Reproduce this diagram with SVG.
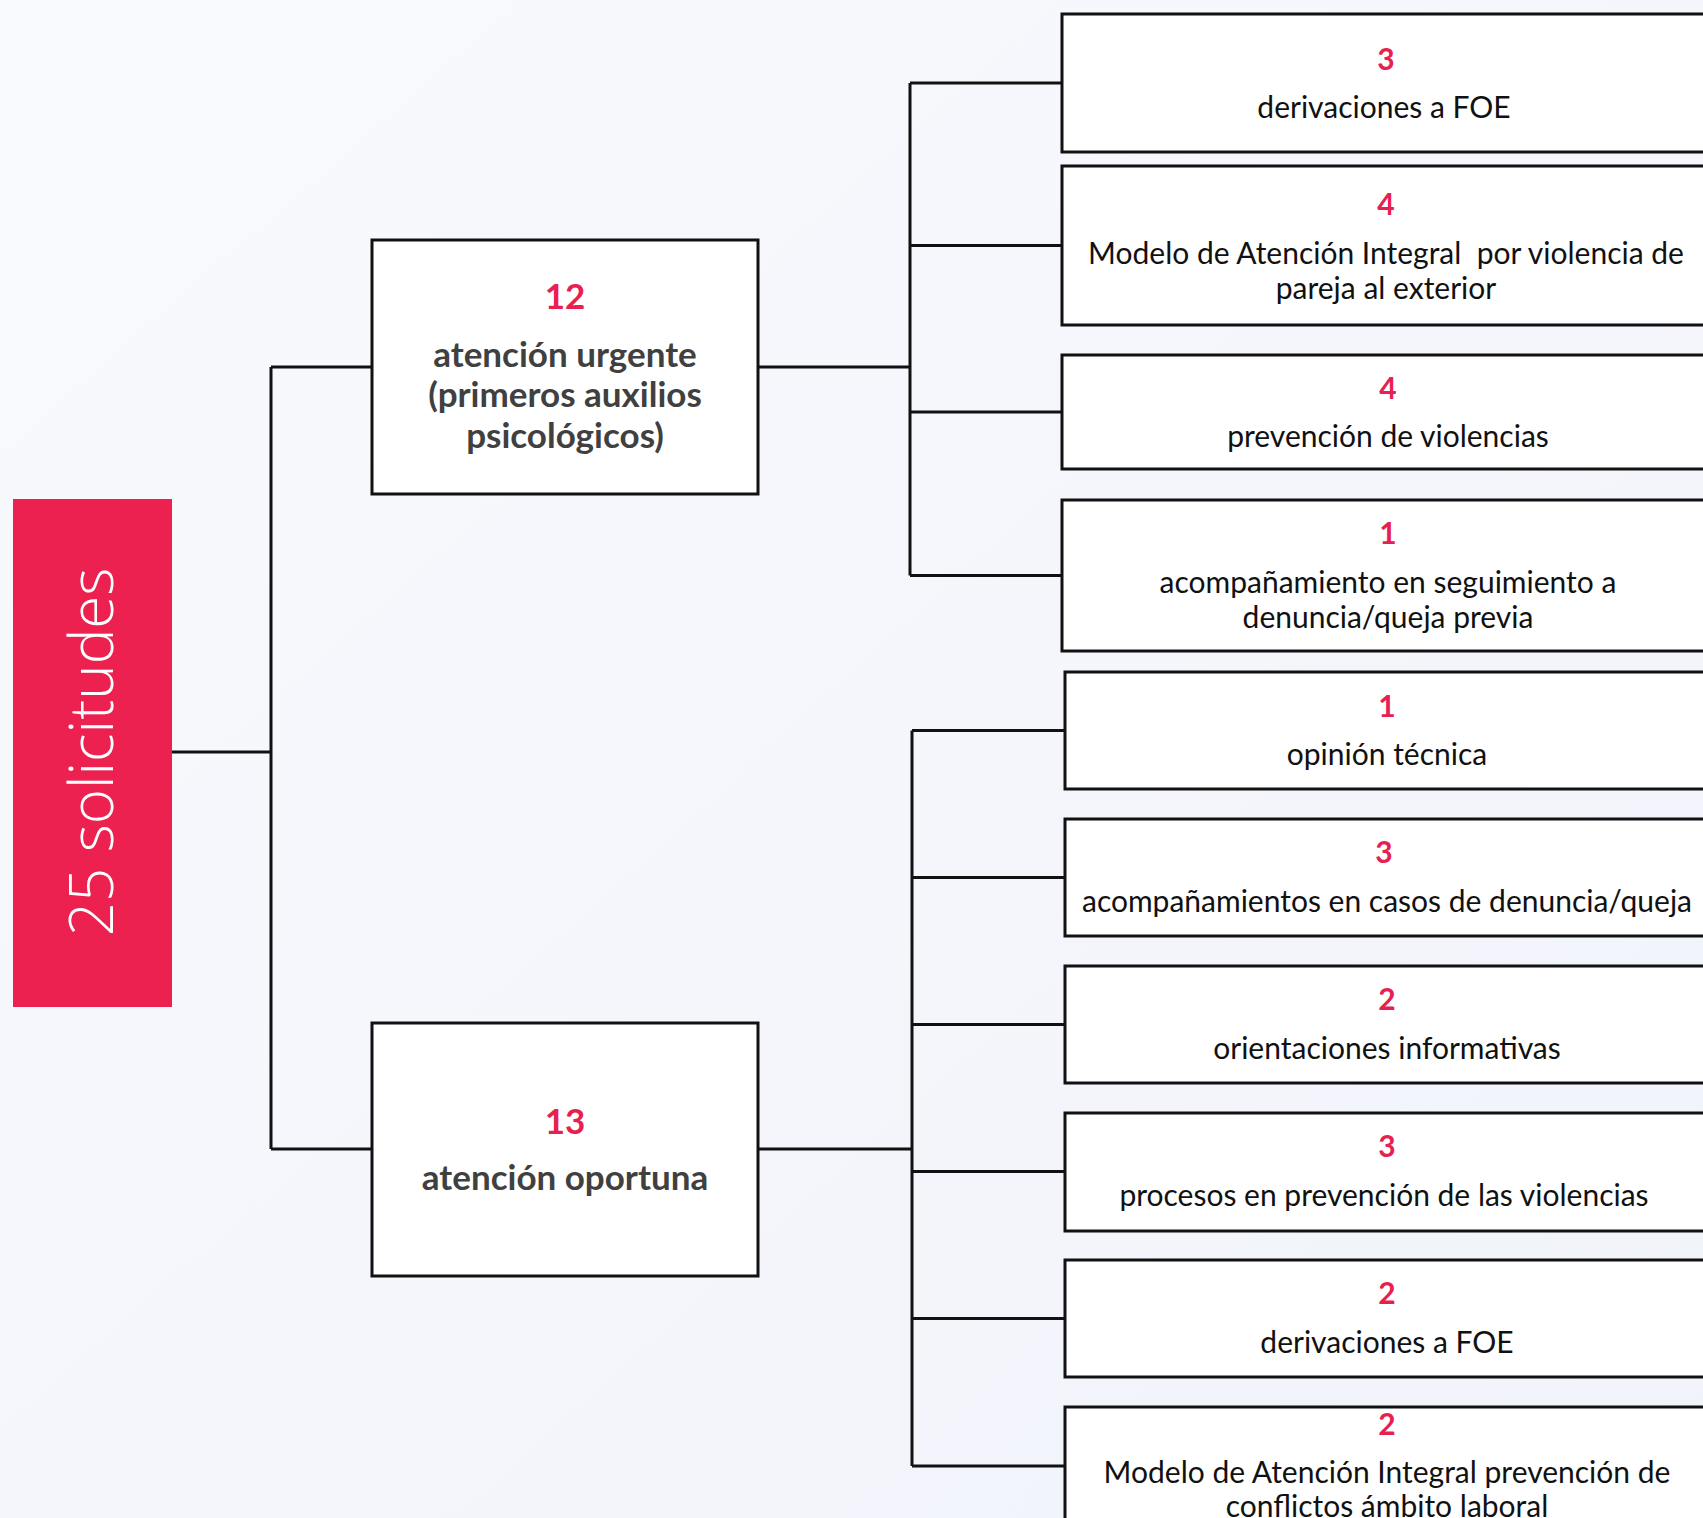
<svg xmlns="http://www.w3.org/2000/svg" width="1703" height="1518" viewBox="0 0 1703 1518">
<defs>
<linearGradient id="bg" x1="0" y1="0" x2="1" y2="1">
<stop offset="0" stop-color="#F9FAFD"/>
<stop offset="1" stop-color="#F1F3FB"/>
</linearGradient>
<style>
.box{fill:#FFFFFF;stroke:#111111;stroke-width:3}
.conn{fill:none;stroke:#111111;stroke-width:3}
.num{font-family:Lato,"Liberation Sans",sans-serif;font-weight:700;fill:#E8204F;text-anchor:middle}
.n1{font-size:30px}
.n2{font-size:35px}
.lbl{font-family:Lato,"Liberation Sans",sans-serif;font-size:30px;fill:#111111;text-anchor:middle}
.mid{font-family:Lato,"Liberation Sans",sans-serif;font-size:35px;font-weight:700;fill:#404040;text-anchor:middle}
.root{font-family:"Open Sans","Liberation Sans",sans-serif;font-size:60px;font-weight:300;fill:#FFFFFF;text-anchor:middle}
</style>
</defs>
<rect x="0" y="0" width="1703" height="1518" fill="url(#bg)"/>
<g id="connectors">
<path class="conn" d="M172,752 H271 M271,367 V1149 M271,367 H372 M271,1149 H372"/>
<path class="conn" d="M758,367 H910 M910,83 V575.5 M910,83 H1062 M910,245.5 H1062 M910,412 H1062 M910,575.5 H1062"/>
<path class="conn" d="M758,1149 H912 M912,730.5 V1466 M912,730.5 H1065 M912,877.5 H1065 M912,1024.5 H1065 M912,1171.5 H1065 M912,1318.5 H1065 M912,1466 H1065"/>
</g>
<g id="root">
<rect x="13" y="499" width="159" height="508" fill="#EC2150"/>
<text class="root" transform="translate(113,752) rotate(-90)" x="0" y="0">25 solicitudes</text>
</g>
<g id="urgente">
<rect class="box" x="372" y="240" width="386" height="254"/>
<text class="num n2" x="565" y="309">12</text>
<text class="mid" x="565" y="367">atención urgente</text>
<text class="mid" x="565" y="407">(primeros auxilios</text>
<text class="mid" x="565" y="448">psicológicos)</text>
</g>
<g id="oportuna">
<rect class="box" x="372" y="1023" width="386" height="253"/>
<text class="num n2" x="565" y="1134">13</text>
<text class="mid" x="565" y="1190">atención oportuna</text>
</g>
<g id="u1">
<rect class="box" x="1062" y="14" width="650" height="138"/>
<text class="num n1" x="1386" y="70">3</text>
<text class="lbl" x="1384" y="118">derivaciones a FOE</text>
</g>
<g id="u2">
<rect class="box" x="1062" y="166" width="650" height="159"/>
<text class="num n1" x="1386" y="215">4</text>
<text class="lbl" x="1386" y="264">Modelo de Atención Integral&#160; por violencia de</text>
<text class="lbl" x="1386" y="299">pareja al exterior</text>
</g>
<g id="u3">
<rect class="box" x="1062" y="355" width="650" height="114"/>
<text class="num n1" x="1388" y="399">4</text>
<text class="lbl" x="1388" y="447">prevención de violencias</text>
</g>
<g id="u4">
<rect class="box" x="1062" y="500" width="650" height="151"/>
<text class="num n1" x="1388" y="544">1</text>
<text class="lbl" x="1388" y="593">acompañamiento en seguimiento a</text>
<text class="lbl" x="1388" y="628">denuncia/queja previa</text>
</g>
<g id="o1">
<rect class="box" x="1065" y="672" width="650" height="117"/>
<text class="num n1" x="1387" y="717">1</text>
<text class="lbl" x="1387" y="765">opinión técnica</text>
</g>
<g id="o2">
<rect class="box" x="1065" y="819" width="650" height="117"/>
<text class="num n1" x="1384" y="863">3</text>
<text class="lbl" x="1387" y="912">acompañamientos en casos de denuncia/queja</text>
</g>
<g id="o3">
<rect class="box" x="1065" y="966" width="650" height="117"/>
<text class="num n1" x="1387" y="1010">2</text>
<text class="lbl" x="1387" y="1059">orientaciones informativas</text>
</g>
<g id="o4">
<rect class="box" x="1065" y="1113" width="650" height="118"/>
<text class="num n1" x="1387" y="1157">3</text>
<text class="lbl" x="1384" y="1206">procesos en prevención de las violencias</text>
</g>
<g id="o5">
<rect class="box" x="1065" y="1260" width="650" height="117"/>
<text class="num n1" x="1387" y="1304">2</text>
<text class="lbl" x="1387" y="1353">derivaciones a FOE</text>
</g>
<g id="o6">
<rect class="box" x="1065" y="1407" width="650" height="118"/>
<text class="num n1" x="1387" y="1435">2</text>
<text class="lbl" x="1387" y="1483">Modelo de Atención Integral prevención de</text>
<text class="lbl" x="1387" y="1517">conflictos ámbito laboral</text>
</g>
</svg>
